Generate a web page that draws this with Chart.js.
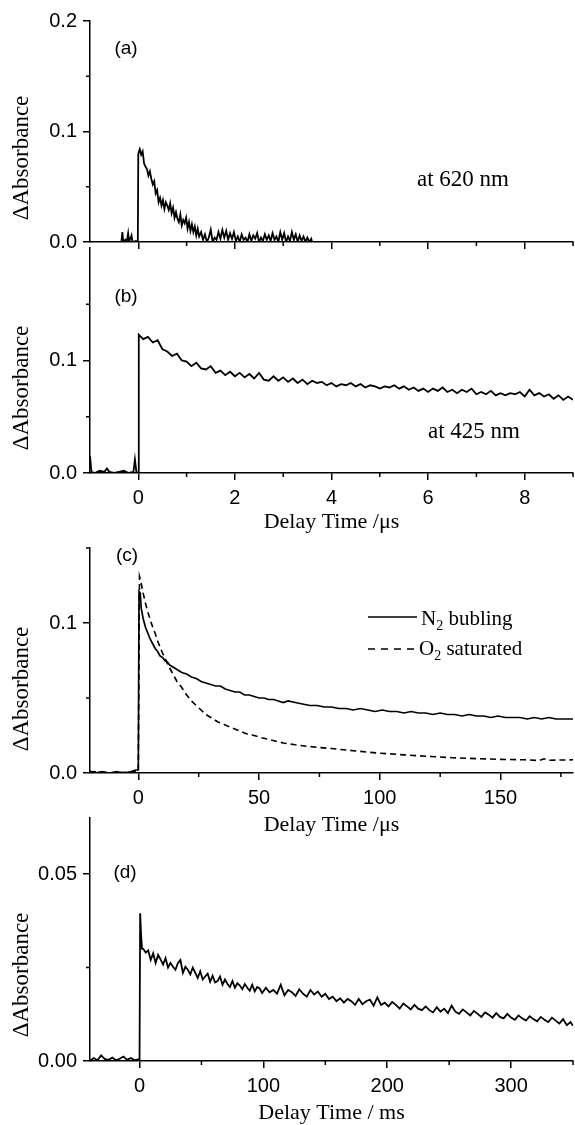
<!DOCTYPE html>
<html>
<head>
<meta charset="utf-8">
<script src="https://cdn.jsdelivr.net/npm/chart.js@4.4.1/dist/chart.umd.min.js"></script>
<style>
  html, body { margin: 0; padding: 0; background: #fff; }
  body { width: 575px; height: 1125px; position: relative; overflow: hidden; }
  canvas { position: absolute; left: 0; }
</style>
</head>
<body>
<canvas id="panelA" width="575" height="260" style="top:0px"></canvas>
<canvas id="panelB" width="575" height="310" style="top:230px"></canvas>
<canvas id="panelC" width="575" height="310" style="top:530px"></canvas>
<canvas id="panelD" width="575" height="325" style="top:800px"></canvas>
<script>
// (a) 620 nm, delay time in µs
const timeA = [
  -0.35, -0.33, -0.31, -0.27, -0.24, -0.21, -0.19, -0.14, -0.12, -0.05,
  -0.01, 0.00, 0.03, 0.06, 0.09, 0.12, 0.15, 0.18, 0.21, 0.24,
  0.27, 0.30, 0.33, 0.36, 0.39, 0.42, 0.45, 0.48, 0.51, 0.54,
  0.57, 0.60, 0.63, 0.66, 0.69, 0.72, 0.75, 0.78, 0.81, 0.84,
  0.87, 0.90, 0.93, 0.96, 0.99, 1.02, 1.05, 1.08, 1.11, 1.14,
  1.17, 1.20, 1.23, 1.26, 1.30, 1.34, 1.38, 1.42, 1.46, 1.50,
  1.54, 1.58, 1.62, 1.66, 1.70, 1.74, 1.78, 1.82, 1.86, 1.90,
  1.94, 1.98, 2.02, 2.06, 2.10, 2.14, 2.18, 2.22, 2.26, 2.30,
  2.34, 2.38, 2.42, 2.46, 2.50, 2.54, 2.58, 2.62, 2.66, 2.70,
  2.74, 2.78, 2.82, 2.86, 2.90, 2.94, 2.98, 3.02, 3.06, 3.10,
  3.14, 3.18, 3.22, 3.26, 3.30, 3.34, 3.38, 3.42, 3.46, 3.50,
  3.54, 3.58, 3.60
];
const absA = [
  0.000, 0.009, 0.000, 0.002, 0.000, 0.008, 0.000, 0.006, 0.000, 0.001,
  0.000, 0.080, 0.084, 0.079, 0.082, 0.071, 0.068, 0.066, 0.060, 0.064,
  0.057, 0.052, 0.055, 0.044, 0.047, 0.036, 0.040, 0.033, 0.038, 0.030,
  0.036, 0.033, 0.029, 0.035, 0.026, 0.031, 0.022, 0.027, 0.021, 0.018,
  0.025, 0.015, 0.020, 0.017, 0.022, 0.012, 0.018, 0.010, 0.016, 0.009,
  0.014, 0.006, 0.012, 0.005, 0.009, 0.002, 0.007, 0.000, 0.004, 0.011,
  0.000, 0.004, 0.002, 0.009, 0.003, 0.011, 0.004, 0.010, 0.002, 0.008,
  0.003, 0.009, 0.001, 0.005, 0.000, 0.007, 0.002, 0.004, 0.000, 0.007,
  0.001, 0.006, 0.003, 0.008, 0.000, 0.004, 0.001, 0.007, 0.002, 0.006,
  0.001, 0.008, 0.002, 0.005, 0.000, 0.009, 0.002, 0.008, 0.000, 0.005,
  0.001, 0.009, 0.002, 0.007, 0.000, 0.006, 0.001, 0.005, 0.000, 0.004,
  0.000, 0.003, 0.000
];

// (b) 425 nm, delay time in µs
const timeB = [
  -1.00, -0.97, -0.90, -0.80, -0.70, -0.65, -0.60, -0.50, -0.40, -0.30,
  -0.20, -0.10, -0.07, -0.04, 0.00, 0.01, 0.10, 0.20, 0.30, 0.40,
  0.50, 0.60, 0.70, 0.80, 0.90, 1.00, 1.10, 1.20, 1.30, 1.40,
  1.50, 1.60, 1.70, 1.80, 1.90, 2.00, 2.10, 2.20, 2.30, 2.40,
  2.50, 2.60, 2.70, 2.80, 2.90, 3.00, 3.10, 3.20, 3.30, 3.40,
  3.50, 3.60, 3.70, 3.80, 3.90, 4.00, 4.10, 4.20, 4.30, 4.40,
  4.50, 4.60, 4.70, 4.80, 4.90, 5.00, 5.10, 5.20, 5.30, 5.40,
  5.50, 5.60, 5.70, 5.80, 5.90, 6.00, 6.10, 6.20, 6.30, 6.40,
  6.50, 6.60, 6.70, 6.80, 6.90, 7.00, 7.10, 7.20, 7.30, 7.40,
  7.50, 7.60, 7.70, 7.80, 7.90, 8.00, 8.10, 8.20, 8.30, 8.40,
  8.50, 8.60, 8.70, 8.80, 8.90, 9.00
];
const absB = [
  0.015, 0.001, 0.000, 0.002, 0.001, 0.004, 0.001, 0.000, 0.001, 0.002,
  0.000, 0.001, 0.012, 0.001, 0.000, 0.123, 0.119, 0.121, 0.116, 0.118,
  0.110, 0.108, 0.104, 0.106, 0.100, 0.099, 0.095, 0.098, 0.093, 0.092,
  0.095, 0.089, 0.091, 0.087, 0.090, 0.086, 0.089, 0.085, 0.088, 0.084,
  0.089, 0.083, 0.082, 0.086, 0.082, 0.085, 0.081, 0.084, 0.080, 0.083,
  0.079, 0.082, 0.080, 0.081, 0.078, 0.080, 0.077, 0.079, 0.078, 0.080,
  0.077, 0.079, 0.076, 0.078, 0.077, 0.075, 0.077, 0.076, 0.078, 0.075,
  0.077, 0.074, 0.076, 0.073, 0.075, 0.072, 0.075, 0.073, 0.076, 0.072,
  0.074, 0.071, 0.074, 0.072, 0.075, 0.070, 0.072, 0.070, 0.073, 0.069,
  0.071, 0.069, 0.071, 0.070, 0.072, 0.068, 0.074, 0.069, 0.071, 0.068,
  0.070, 0.066, 0.069, 0.065, 0.068, 0.065
];

// (c) N2 bubling / O2 saturated, delay time in µs
const timeN2 = [
  -20, -18, -15, -12, -9, -6, -3, -1, 0, 0.3,
  0.8, 1.2, 2, 3, 4, 5, 6, 7, 8, 9,
  10, 11, 12, 13, 14, 15, 16, 18, 20, 22,
  24, 26, 28, 30, 32, 34, 36, 38, 40, 42,
  44, 46, 48, 50, 52, 54, 56, 58, 60, 62,
  65, 68, 71, 74, 77, 80, 83, 86, 89, 92,
  95, 98, 101, 104, 107, 110, 113, 116, 119, 122,
  125, 128, 131, 134, 137, 140, 143, 146, 149, 152,
  155, 158, 161, 164, 167, 170, 173, 176, 180
];
const absN2 = [
  0.001, 0.000, 0.001, 0.000, 0.001, 0.000, 0.001, 0.002, 0.002, 0.121,
  0.120, 0.110, 0.103, 0.097, 0.093, 0.089, 0.086, 0.083, 0.081, 0.078,
  0.077, 0.075, 0.074, 0.072, 0.071, 0.070, 0.069, 0.067, 0.066, 0.064,
  0.063, 0.061, 0.060, 0.059, 0.058, 0.058, 0.056, 0.055, 0.054, 0.054,
  0.052, 0.052, 0.051, 0.050, 0.050, 0.049, 0.049, 0.048, 0.047, 0.048,
  0.047, 0.046, 0.045, 0.045, 0.044, 0.044, 0.043, 0.043, 0.042, 0.043,
  0.042, 0.041, 0.042, 0.041, 0.041, 0.040, 0.041, 0.040, 0.040, 0.039,
  0.040, 0.039, 0.039, 0.038, 0.039, 0.038, 0.038, 0.037, 0.038, 0.037,
  0.037, 0.037, 0.036, 0.037, 0.036, 0.037, 0.036, 0.036, 0.036
];
const timeO2 = [
  -20, -10, -1, 0, 0.5, 1, 2, 3, 4, 5,
  6, 7, 8, 9, 10, 11, 12, 13, 14, 15,
  16, 18, 20, 22, 24, 26, 28, 30, 33, 36,
  39, 42, 45, 48, 51, 55, 60, 65, 70, 75,
  80, 85, 90, 95, 100, 110, 120, 130, 140, 150,
  160, 166, 168, 170, 180
];
const absO2 = [
  0.001, 0.000, 0.001, 0.001, 0.131, 0.128, 0.120, 0.113, 0.107, 0.102,
  0.097, 0.093, 0.088, 0.084, 0.080, 0.077, 0.073, 0.070, 0.067, 0.064,
  0.061, 0.057, 0.052, 0.048, 0.045, 0.042, 0.039, 0.037, 0.034, 0.032,
  0.030, 0.028, 0.026, 0.025, 0.0235, 0.022, 0.020, 0.0188, 0.0178, 0.0170,
  0.0163, 0.0155, 0.0147, 0.0139, 0.0132, 0.0121, 0.0111, 0.0102, 0.0096, 0.0091,
  0.0088, 0.0083, 0.0095, 0.0085, 0.0088
];

// (d) delay time in ms
const timeD = [
  -40, -37, -34, -31, -28, -25, -22, -19, -16, -13,
  -10, -7, -4, -1, 0, 0.5, 1.2, 2, 3, 5,
  7, 9, 11, 13, 15, 17, 19, 21, 23, 25,
  27, 29, 31, 33, 35, 37, 39, 41, 43, 45,
  47, 49, 51, 53, 55, 57, 59, 61, 63, 65,
  67, 69, 71, 73, 75, 77, 79, 81, 83, 85,
  87, 89, 91, 93, 95, 97, 99, 102, 105, 108,
  111, 114, 117, 120, 123, 126, 129, 132, 135, 138,
  141, 144, 147, 150, 153, 156, 159, 162, 165, 168,
  171, 174, 177, 180, 183, 186, 189, 192, 195, 198,
  201, 204, 207, 210, 213, 216, 219, 222, 225, 228,
  231, 234, 237, 240, 243, 246, 249, 252, 255, 258,
  261, 264, 267, 270, 273, 276, 279, 282, 285, 288,
  291, 294, 297, 300, 303, 306, 309, 312, 315, 318,
  321, 324, 327, 330, 333, 336, 339, 342, 345, 348, 350
];
const absD = [
  0.0000, 0.0008, 0.0002, 0.0015, 0.0005, 0.0003, 0.0009, 0.0002, 0.0006, 0.0012,
  0.0003, 0.0008, 0.0002, 0.0004, 0.0003, 0.0395, 0.0340, 0.0300, 0.0300, 0.0290,
  0.0296, 0.0270, 0.0288, 0.0262, 0.0284, 0.0272, 0.0258, 0.0275, 0.0250, 0.0262,
  0.0252, 0.0244, 0.0262, 0.0270, 0.0236, 0.0252, 0.0244, 0.0232, 0.0250, 0.0236,
  0.0222, 0.0240, 0.0218, 0.0226, 0.0234, 0.0212, 0.0228, 0.0210, 0.0214, 0.0226,
  0.0204, 0.0218, 0.0206, 0.0198, 0.0214, 0.0196, 0.0208, 0.0202, 0.0192, 0.0206,
  0.0196, 0.0188, 0.0204, 0.0186, 0.0198, 0.0194, 0.0182, 0.0196, 0.0184, 0.0190,
  0.0180, 0.0204, 0.0176, 0.0190, 0.0184, 0.0174, 0.0192, 0.0180, 0.0172, 0.0190,
  0.0178, 0.0186, 0.0172, 0.0180, 0.0166, 0.0172, 0.0160, 0.0168, 0.0156, 0.0166,
  0.0160, 0.0150, 0.0166, 0.0152, 0.0160, 0.0164, 0.0148, 0.0170, 0.0150, 0.0156,
  0.0146, 0.0158, 0.0150, 0.0140, 0.0154, 0.0146, 0.0138, 0.0150, 0.0140, 0.0136,
  0.0146, 0.0136, 0.0130, 0.0144, 0.0132, 0.0140, 0.0128, 0.0148, 0.0132, 0.0126,
  0.0138, 0.0130, 0.0122, 0.0134, 0.0126, 0.0118, 0.0130, 0.0124, 0.0116, 0.0128,
  0.0118, 0.0114, 0.0126, 0.0116, 0.0110, 0.0122, 0.0114, 0.0108, 0.0120, 0.0112,
  0.0106, 0.0118, 0.0110, 0.0104, 0.0116, 0.0108, 0.0100, 0.0112, 0.0096, 0.0104, 0.0094
];

const sansFamily = '"Liberation Sans", Arial, Helvetica, sans-serif';
const serifFamily = '"Liberation Serif", "Times New Roman", Times, serif';

function toPoints(xs, ys) {
  return xs.map((x, i) => ({ x: x, y: ys[i] }));
}

function trace(xs, ys, width, dash) {
  return {
    data: toPoints(xs, ys),
    borderColor: '#000',
    borderWidth: width,
    borderDash: dash || [],
    pointRadius: 0,
    tension: 0,
    fill: false
  };
}

// text with a lowered subscript digit, e.g. N2
function subText(ctx, x, y, main, sub, rest) {
  ctx.font = '21px ' + serifFamily;
  ctx.fillText(main, x, y);
  x += ctx.measureText(main).width;
  ctx.font = '14px ' + serifFamily;
  ctx.fillText(sub, x, y + 5);
  x += ctx.measureText(sub).width;
  ctx.font = '21px ' + serifFamily;
  ctx.fillText(rest, x, y);
}

// minor ticks, y title, panel letter, notes and legend
function decorations(p) {
  return {
    id: 'decorations',
    afterDraw(chart) {
      const ctx = chart.ctx;
      const xs = chart.scales.x;
      const ys = chart.scales.y;
      ctx.save();
      ctx.strokeStyle = '#000';
      ctx.lineWidth = 1.5;
      ctx.beginPath();
      p.xMinor.forEach(v => {
        const px = xs.getPixelForValue(v);
        ctx.moveTo(px, xs.top);
        ctx.lineTo(px, xs.top + 4);
      });
      p.yMinor.forEach(v => {
        const py = ys.getPixelForValue(v);
        ctx.moveTo(ys.right - 4, py);
        ctx.lineTo(ys.right, py);
      });
      ctx.stroke();

      ctx.fillStyle = '#000';
      ctx.textAlign = 'center';
      ctx.textBaseline = 'middle';

      ctx.save();
      ctx.translate(22, p.yTitleY);
      ctx.rotate(-Math.PI / 2);
      ctx.font = '23px ' + serifFamily;
      ctx.fillText('ΔAbsorbance', 0, 0);
      ctx.restore();

      ctx.font = '19px ' + sansFamily;
      ctx.fillText(p.letter, p.letterPos[0], p.letterPos[1]);

      if (p.note) {
        ctx.font = '23px ' + serifFamily;
        ctx.fillText(p.note, p.notePos[0], p.notePos[1]);
      }

      if (p.legend) {
        ctx.lineWidth = 1.6;
        ctx.beginPath();
        ctx.moveTo(368, 87);
        ctx.lineTo(417, 87);
        ctx.stroke();
        ctx.setLineDash([7, 6]);
        ctx.beginPath();
        ctx.moveTo(368, 119);
        ctx.lineTo(417, 119);
        ctx.stroke();
        ctx.setLineDash([]);
        ctx.textAlign = 'left';
        ctx.textBaseline = 'alphabetic';
        subText(ctx, 421, 95, 'N', '2', ' bubling');
        subText(ctx, 419, 125, 'O', '2', ' saturated');
      }
      ctx.restore();
    }
  };
}

function makePanel(id, p) {
  const axisBorder = { display: true, color: '#000', width: 1.5 };
  const axisGrid = { drawOnChartArea: false, drawTicks: true, tickLength: 7, color: '#000', lineWidth: 1.5 };
  return new Chart(document.getElementById(id), {
    type: 'line',
    data: { datasets: p.datasets },
    plugins: [decorations(p)],
    options: {
      responsive: false,
      animation: false,
      devicePixelRatio: 1,
      events: [],
      layout: { padding: { top: p.padTop, right: 2, bottom: 0, left: 0 } },
      plugins: { legend: { display: false }, tooltip: { enabled: false } },
      scales: {
        x: {
          type: 'linear',
          min: p.xMin,
          max: p.xMax,
          afterBuildTicks: s => { s.ticks = p.xMajor.map(v => ({ value: v })); },
          afterFit: s => { s.height = p.xHeight; },
          border: axisBorder,
          grid: axisGrid,
          ticks: {
            display: p.xLabels,
            autoSkip: false,
            maxRotation: 0,
            padding: 6,
            color: '#000',
            font: { family: sansFamily, size: 20 },
            callback: v => String(v)
          },
          title: {
            display: p.xLabels,
            text: p.xTitle || '',
            color: '#000',
            font: { family: serifFamily, size: 22, lineHeight: 1.0 },
            padding: { top: 0, bottom: p.xTitlePad || 0 }
          }
        },
        y: {
          type: 'linear',
          min: p.yMin,
          max: p.yMax,
          afterBuildTicks: s => { s.ticks = p.yMajor.map(v => ({ value: v })); },
          afterFit: s => { s.width = 90; },
          border: axisBorder,
          grid: axisGrid,
          ticks: {
            padding: 6,
            color: '#000',
            font: { family: sansFamily, size: 20 },
            callback: v => Number(v).toFixed(p.yDigits)
          }
        }
      }
    }
  });
}

makePanel('panelA', {
  datasets: [trace(timeA, absA, 1.8)],
  padTop: 21, xHeight: 14,
  xMin: -1, xMax: 9, xMajor: [0, 2, 4, 6, 8], xMinor: [1, 3, 5, 7, 9], xLabels: false,
  yMin: 0, yMax: 0.2, yMajor: [0, 0.1, 0.2], yMinor: [0.05, 0.15], yDigits: 1,
  yTitleY: 158, letter: '(a)', letterPos: [126, 49],
  note: 'at 620 nm', notePos: [463, 180]
});

makePanel('panelB', {
  datasets: [trace(timeB, absB, 1.8)],
  padTop: 17, xHeight: 67,
  xMin: -1, xMax: 9, xMajor: [0, 2, 4, 6, 8], xMinor: [1, 3, 5, 7, 9], xLabels: true,
  xTitle: 'Delay Time /μs', xTitlePad: 7,
  yMin: 0, yMax: 0.2, yMajor: [0, 0.1], yMinor: [0.05, 0.15], yDigits: 1,
  yTitleY: 158, letter: '(b)', letterPos: [126, 67],
  note: 'at 425 nm', notePos: [474, 202]
});

makePanel('panelC', {
  datasets: [trace(timeN2, absN2, 1.7), trace(timeO2, absO2, 1.6, [6, 4])],
  padTop: 18, xHeight: 67,
  xMin: -20, xMax: 180, xMajor: [0, 50, 100, 150], xMinor: [25, 75, 125, 175], xLabels: true,
  xTitle: 'Delay Time /μs', xTitlePad: 4,
  yMin: 0, yMax: 0.15, yMajor: [0, 0.1], yMinor: [0.05, 0.15], yDigits: 1,
  yTitleY: 159, letter: '(c)', letterPos: [127, 26],
  legend: true
});

makePanel('panelD', {
  datasets: [trace(timeD, absD, 1.8)],
  padTop: 18, xHeight: 64,
  xMin: -40, xMax: 350, xMajor: [0, 100, 200, 300], xMinor: [50, 150, 250, 350], xLabels: true,
  xTitle: 'Delay Time / ms', xTitlePad: 1,
  yMin: 0, yMax: 0.065, yMajor: [0, 0.05], yMinor: [0.025], yDigits: 2,
  yTitleY: 175, letter: '(d)', letterPos: [125, 73]
});
</script>
</body>
</html>
